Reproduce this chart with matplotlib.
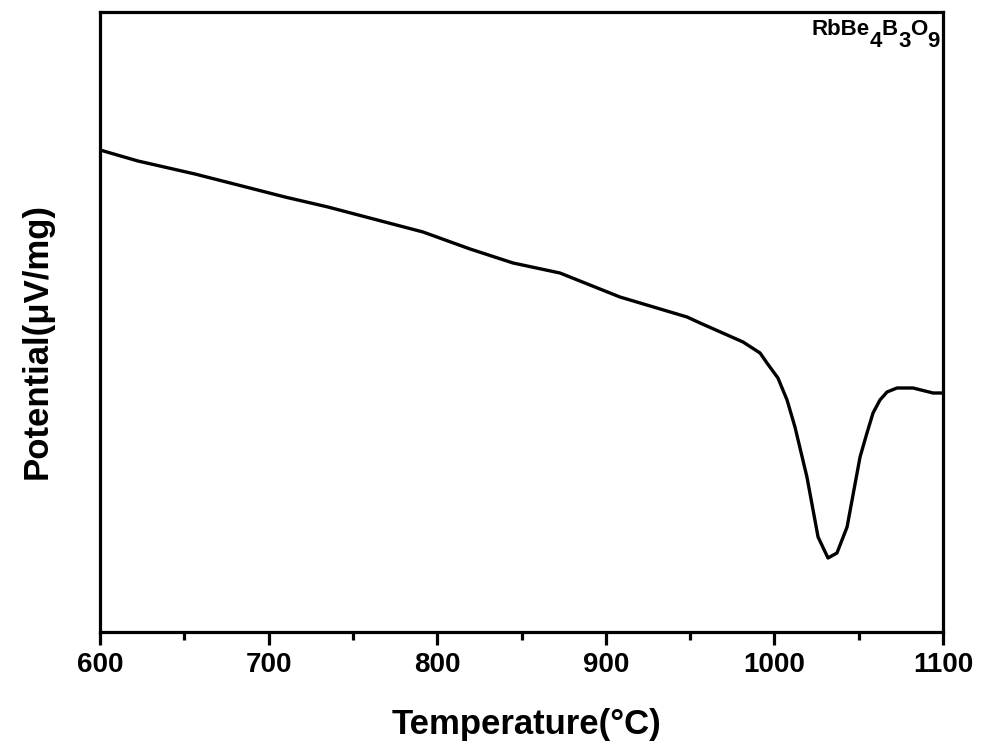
import numpy as np
import matplotlib
matplotlib.use("Agg")
import matplotlib.pyplot as plt
from matplotlib.transforms import offset_copy

# -----------------------------
# DATA
# -----------------------------
temperature = [600.0, 622.5, 656.3, 681.9, 709.7, 735.2, 769.0, 791.6, 819.5,
               845.0, 872.8, 908.4, 948.2, 955.9, 981.4, 991.5, 995.6, 1002.1,
               1007.5, 1012.2, 1019.3, 1025.9, 1031.8, 1037.1, 1043.1, 1050.8,
               1054.9, 1058.5, 1062.6, 1066.8, 1072.7, 1082.2, 1094.1, 1100.0]
potential = [482, 471, 458, 447, 435, 425, 410, 400, 383,
             369, 359, 335, 315, 309, 290, 279, 269, 254,
             232, 205, 155, 95, 74, 79, 105, 175,
             199, 219, 232, 240, 244, 244, 239, 239]

xticks = [600, 700, 800, 900, 1000, 1100]
minor_xticks = [650, 750, 850, 950, 1050]

# formula label: (text, is_subscript)
formula = [("RbBe", False), ("4", True), ("B", False), ("3", True),
           ("O", False), ("9", True)]

# -----------------------------
# STYLE
# -----------------------------
plt.rcParams['font.family'] = ['Liberation Sans', 'DejaVu Sans']
plt.rcParams['font.weight'] = 'bold'

# -----------------------------
# PLOT
# -----------------------------
fig = plt.figure(figsize=(9.81, 7.47), dpi=100)
ax = fig.add_axes([100 / 981, 115 / 747, 843 / 981, 620 / 747])

ax.plot(temperature, potential, color='black', linewidth=2.4)

ax.set_xlim(600, 1100)
ax.set_ylim(0, 620)
ax.set_xticks(xticks)
ax.set_xticks(minor_xticks, minor=True)
ax.set_yticks([])

for sp in ax.spines.values():
    sp.set_linewidth(2.3)

ax.tick_params(axis='x', which='major', direction='out', length=9.5, width=2.3,
               labelsize=20, pad=5)
ax.tick_params(axis='x', which='minor', direction='out', length=6, width=2.3)
for lbl in ax.get_xticklabels():
    lbl.set_fontweight('bold')

ax.set_xlabel("Temperature(°C)", fontsize=25, fontweight='bold')
ax.set_ylabel("Potential(μV/mg)", fontsize=25, fontweight='bold')
ax.xaxis.set_label_coords(0.506, -0.123)
ax.yaxis.set_label_coords(-0.055, 0.47)

# formula with full-size, lowered subscripts, right edge just inside the frame
renderer = fig.canvas.get_renderer()
pieces = []
dx = 0.0
for s, sub in formula:
    tr = offset_copy(ax.transAxes, fig=fig, x=dx, y=(-12 if sub else 0), units='dots')
    t = ax.text(0.0, 0.963, s, transform=tr, ha='left', va='baseline',
                fontsize=16, fontweight='bold')
    pieces.append((t, dx, sub))
    dx += t.get_window_extent(renderer).width
x_start = (940 - 100 - dx) / 843
for t, off, sub in pieces:
    t.set_x(x_start)

plt.savefig("out.png", dpi=100)
